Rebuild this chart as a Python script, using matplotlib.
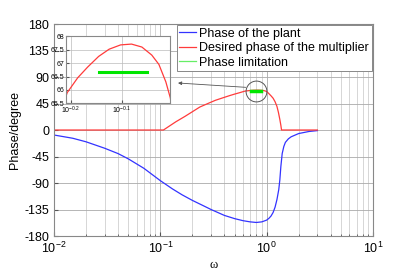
import matplotlib
matplotlib.use("Agg")
import matplotlib.pyplot as plt
from matplotlib.ticker import FixedLocator, NullFormatter, LogLocator

plt.rcParams['font.family'] = ['Liberation Sans', 'DejaVu Sans']
plt.rcParams['mathtext.fontset'] = 'custom'
plt.rcParams['mathtext.rm'] = 'Liberation Sans'
plt.rcParams['mathtext.it'] = 'Liberation Sans:italic'
plt.rcParams['axes.unicode_minus'] = False

# phase of the plant
w_plant = [0.01, 0.015, 0.02, 0.03, 0.04, 0.05, 0.07, 0.1, 0.13, 0.16, 0.2, 0.25,
           0.3, 0.4, 0.5, 0.6, 0.7, 0.8, 0.9, 1.0, 1.05, 1.1, 1.15, 1.2, 1.25,
           1.3, 1.33, 1.36, 1.4, 1.45, 1.5, 1.6, 1.7, 2.0, 2.5, 3.0]
ph_plant = [-8.5, -14, -20, -31, -40, -49, -65, -86, -100, -110, -119.5, -128,
            -135, -145, -150.5, -154, -156, -157, -156, -153, -150, -146, -140, -131, -118,
            -101, -85, -62, -40, -28, -21, -15, -11.5, -6, -2.5, -1]

# desired phase of the multiplier
w_mult = [0.01, 0.107, 0.12, 0.14, 0.17, 0.2, 0.235, 0.28, 0.33, 0.4, 0.45, 0.5,
          0.56, 0.62, 0.65, 0.68, 0.715, 0.75, 0.79, 0.83, 0.87, 0.91, 0.94, 0.97,
          0.99, 1.02, 1.06, 1.1, 1.15, 1.2, 1.25, 1.29, 1.33, 1.36, 1.38, 3.0]
ph_mult = [0, 0, 6, 14, 23, 31, 39, 45, 50.5, 55.5, 58.5, 61,
           63.5, 65.9, 66.45, 66.85, 67.25, 67.52, 67.68, 67.71, 67.6, 67.3, 66.95, 66.3,
           65.7, 64, 61, 58, 54, 48, 40, 30, 18, 8, 0, 0]

# phase limitation
w_lim = [0.715, 0.89]
ph_lim = [66.66, 66.66]

blue = '#3333ff'
red = '#ff3b3b'
green = '#00e600'

fig = plt.figure(figsize=(4.16, 2.77), dpi=100)
ax = fig.add_axes([0.1298, 0.148, 0.7668, 0.7653])

ax.semilogx(w_plant, ph_plant, color=blue, lw=0.9, label='Phase of the plant')
ax.semilogx(w_mult, ph_mult, color=red, lw=0.9, label='Desired phase of the multiplier')
ax.semilogx(w_lim, ph_lim, color=green, lw=2.5, label='Phase limitation')

ax.set_xlim(1e-2, 1e1)
ax.set_ylim(-180, 180)
ax.set_yticks(range(-180, 181, 45))
ax.xaxis.set_major_locator(FixedLocator([1e-2, 1e-1, 1e0, 1e1]))
ax.xaxis.set_minor_locator(LogLocator(base=10, subs=range(2, 10)))
ax.xaxis.set_minor_formatter(NullFormatter())
ax.tick_params(labelsize=9, direction='in', length=3, colors='#555555', labelcolor='black')
ax.tick_params(which='minor', direction='in', length=1.5, colors='#555555')
ax.grid(which='major', color='#aaaaaa', lw=0.6)
ax.grid(which='minor', axis='x', color='#d0d0d0', lw=0.6)
for s in ax.spines.values():
    s.set_color('#888888')
    s.set_linewidth(0.8)

ax.set_xlabel('ω', family=['Liberation Serif', 'DejaVu Serif'], fontsize=9, labelpad=2)
ax.set_ylabel('Phase/degree', fontsize=9, labelpad=2)

leg = ax.legend(loc='upper right', fontsize=9, frameon=True, fancybox=False,
                borderaxespad=0.1, handlelength=1.3, handletextpad=0.3,
                labelspacing=0.2, borderpad=0.2, framealpha=1)
leg.get_frame().set_edgecolor('#888888')
leg.get_frame().set_linewidth(0.7)
for ln in leg.get_lines():
    ln.set_linewidth(0.9)
leg.get_lines()[2].set_color('#66ee66')

# circle around the zoomed region and arrow to the inset
ax.plot([0.8], [66.8], marker='o', markersize=15, mfc='none', mec='#555555', mew=0.7)
ax.annotate('', xy=(178 / 416, 1 - 83 / 277), xycoords='figure fraction',
            xytext=(0.635, 72.5), textcoords='data',
            arrowprops=dict(arrowstyle='-|>', color='#555555', lw=0.6,
                            mutation_scale=5, shrinkA=0, shrinkB=0))

# inset
ins = fig.add_axes([0.1587, 0.627, 0.25, 0.2419])
ins.semilogx(w_mult, ph_mult, color=red, lw=0.9)
ins.semilogx(w_lim, ph_lim, color=green, lw=2.2)
ins.set_xlim(10 ** -0.21, 10 ** -0.005)
ins.set_ylim(65.5, 68)
ins.set_yticks([65.5, 66, 66.5, 67, 67.5, 68])
ins.set_yticklabels(['65.5', '66', '66.5', '67', '67.5', '68'])
ins.xaxis.set_major_locator(FixedLocator([10 ** -0.2, 10 ** -0.1]))
ins.set_xticklabels([r'$10^{-0.2}$', r'$10^{-0.1}$'])
ins.xaxis.set_minor_locator(FixedLocator([]))
ins.tick_params(labelsize=5, direction='in', length=2, pad=1, colors='#555555', labelcolor='black')
ins.grid(which='major', color='#bbbbbb', lw=0.5)
for s in ins.spines.values():
    s.set_color('#888888')
    s.set_linewidth(0.8)

fig.savefig('out.png', dpi=100)
